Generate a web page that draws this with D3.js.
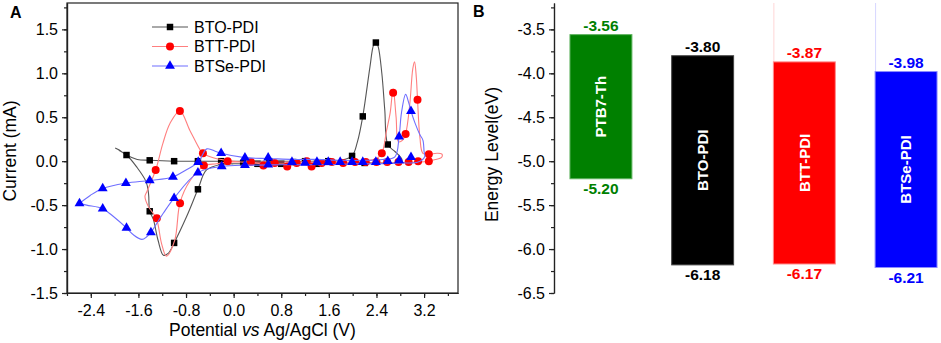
<!DOCTYPE html>
<head>
	<meta charset="utf-8" />
	<style>
		body {
			margin: 0;
			background-color: #fff;
			font-family: 'Liberation Sans', Arial, sans-serif;
		}
		svg text {
			font-family: 'Liberation Sans', Arial, sans-serif;
		}
		.axis path,
		.axis line {
			stroke: #222;
			stroke-width: 1.2px;
		}
		.axis text {
			font-size: 16px;
			fill: #000;
		}
	</style>
</head>

<body>
	<div id="chart-area"></div>

	<script src="https://cdnjs.cloudflare.com/ajax/libs/d3/7.8.5/d3.min.js"></script>

	<script>
		// ---- panel A : cyclic voltammetry (potential V, current mA) ----
		let seriesNames = ['BTO-PDI', 'BTT-PDI', 'BTSe-PDI'];

		let btoLine = [
			[-1.99, 0.15], [-1.93, 0.13], [-1.8, 0.07], [-1.62, 0.02], [-1.41, 0.01],
			[-1.0, 0.0], [-0.6, 0.0], [-0.21, 0.0], [0.2, 0.0], [0.6, 0.0], [1.0, 0.0],
			[1.4, 0.0], [1.8, 0.01], [1.99, 0.06], [2.08, 0.22], [2.17, 0.51],
			[2.29, 1.07], [2.35, 1.32], [2.39, 1.36], [2.43, 1.3], [2.49, 1.0],
			[2.54, 0.58], [2.59, 0.19], [2.71, 0.11], [2.8, 0.05], [2.83, 0.01],
			[2.7, -0.02], [2.4, -0.02], [2.0, -0.02], [1.6, -0.03], [1.2, -0.03],
			[0.8, -0.03], [0.4, -0.03], [0.0, -0.03], [-0.2, -0.035], [-0.455, -0.1],
			[-0.6, -0.32], [-0.79, -0.63], [-1.0, -0.93], [-1.1, -1.05], [-1.18, -1.07],
			[-1.27, -0.9], [-1.35, -0.66], [-1.41, -0.57], [-1.43, -0.37], [-1.47, -0.235],
			[-1.63, -0.065], [-1.8, 0.07], [-1.93, 0.125]
		];
		let btoMarks = [
			[-1.8, 0.07], [-1.41, 0.01], [-1.0, 0.0], [-0.6, 0.0], [-0.21, 0.0],
			[0.16, -0.02], [0.6, 0.0], [1.0, -0.01], [1.2, 0.0], [1.59, 0.0],
			[1.99, 0.06], [2.17, 0.51], [2.39, 1.35], [2.59, 0.19],
			[-0.6, -0.32], [-1.0, -0.93], [-1.41, -0.57], [0.4, -0.03], [0.8, -0.03],
			[1.4, -0.03], [2.2, -0.02]
		];

		let bttLine = [
			[-0.1, -0.01], [0.3, -0.01], [0.7, -0.01], [1.1, -0.01], [1.5, -0.01],
			[1.9, -0.01], [2.2, 0.0], [2.4, 0.03], [2.49, 0.09], [2.57, 0.35],
			[2.63, 0.55], [2.68, 0.82], [2.73, 0.5], [2.77, 0.22], [2.84, 0.24],
			[2.89, 0.31], [2.96, 0.65], [3.01, 1.05], [3.04, 1.13], [3.07, 0.95],
			[3.09, 0.7], [3.13, 0.27], [3.18, 0.09], [3.28, 0.08], [3.42, 0.09],
			[3.5, 0.08], [3.49, 0.04], [3.4, 0.02], [3.28, 0.0], [3.1, -0.01],
			[2.7, -0.02], [2.3, -0.02], [1.9, -0.02], [1.5, -0.03], [1.1, -0.03],
			[0.7, -0.03], [0.3, -0.02], [0.0, 0.0], [-0.3, 0.03], [-0.516, 0.09],
			[-0.56, 0.125], [-0.735, 0.35], [-0.903, 0.57], [-1.07, 0.43], [-1.19, 0.2],
			[-1.31, -0.1], [-1.46, -0.35], [-1.49, -0.4], [-1.43, -0.52], [-1.3, -0.65],
			[-1.21, -0.94], [-1.13, -1.08], [-0.99, -0.9], [-0.9, -0.47], [-0.73, -0.22],
			[-0.49, -0.05], [-0.29, -0.03], [-0.1, -0.01]
		];
		let bttMarks = [
			[-1.31, -0.1], [-0.903, 0.57], [-0.516, 0.09], [-0.5, -0.05], [-0.1, 0.0],
			[-1.29, -0.65], [-0.9, -0.48], [0.29, -0.01], [0.69, -0.02], [1.06, -0.02],
			[1.23, 0.0], [1.31, -0.06], [1.48, -0.02], [1.65, -0.01], [1.84, -0.02],
			[2.04, -0.01], [2.22, -0.01], [2.4, -0.01], [2.58, -0.01], [2.77, -0.01],
			[2.94, -0.01], [3.1, 0.0], [3.28, 0.0], [3.28, 0.08], [3.09, 0.7],
			[2.89, 0.31], [2.68, 0.78], [2.49, 0.09], [0.5, -0.05], [0.9, -0.06]
		];

		let btseLine = [
			[-2.59, -0.48], [-2.41, -0.39], [-2.2, -0.31], [-1.81, -0.25], [-1.41, -0.22],
			[-1.02, -0.18], [-0.8, -0.1], [-0.595, -0.01], [-0.45, 0.14], [-0.3, 0.11],
			[-0.21, 0.09], [0.19, 0.04], [0.6, 0.03], [1.0, 0.02], [1.4, 0.02],
			[1.8, 0.01], [2.2, 0.01], [2.5, 0.02], [2.71, 0.05], [2.78, 0.28],
			[2.82, 0.55], [2.89, 0.76], [2.94, 0.67], [2.98, 0.57], [3.05, 0.43],
			[3.13, 0.3], [3.18, 0.24], [3.2, 0.11], [3.21, 0.05], [3.1, -0.01],
			[2.8, -0.02], [2.4, -0.03], [2.0, -0.03], [1.6, -0.04], [1.2, -0.04],
			[0.8, -0.04], [0.4, -0.045], [0.19, -0.045], [-0.2, -0.06], [-0.6, -0.13],
			[-1.0, -0.42], [-1.18, -0.59], [-1.39, -0.81], [-1.46, -0.86], [-1.54, -0.89],
			[-1.68, -0.84], [-1.8, -0.76], [-2.02, -0.63], [-2.2, -0.54], [-2.47, -0.5],
			[-2.59, -0.48]
		];
		let btseMarks = [
			[-2.59, -0.48], [-2.2, -0.31], [-1.81, -0.25], [-1.41, -0.22], [-1.02, -0.18],
			[-0.595, -0.01], [-0.21, 0.09], [0.19, 0.04], [0.58, 0.04], [-2.2, -0.54],
			[-1.8, -0.76], [-1.39, -0.81], [-1.0, -0.42], [-0.6, -0.13], [-0.2, -0.06],
			[0.19, -0.045], [0.58, -0.04], [0.98, -0.01], [1.2, -0.02], [1.4, -0.01],
			[1.59, -0.01], [1.79, -0.01], [1.99, -0.01], [2.17, -0.01], [2.39, -0.01],
			[2.59, 0.0], [2.78, 0.01], [2.98, 0.045], [2.78, 0.28], [2.98, 0.57]
		];

		let cvXTicks = [-2.4, -1.6, -0.8, 0.0, 0.8, 1.6, 2.4, 3.2];
		let cvYTicks = [-1.5, -1.0, -0.5, 0.0, 0.5, 1.0, 1.5];

		// ---- panel B : energy levels ----
		let materials = ['PTB7-Th', 'BTO-PDI', 'BTT-PDI', 'BTSe-PDI'];
		let lumo = [-3.56, -3.8, -3.87, -3.98];
		let homo = [-5.2, -6.18, -6.17, -6.21];
		let energyTicks = [-6.5, -6.0, -5.5, -5.0, -4.5, -4.0, -3.5];

		let svg = d3
			.select('#chart-area')
			.append('svg')
			.attr('width', 941)
			.attr('height', 343);

		let fmt = d => d.toFixed(1);

		// ================= panel A =================
		let x = d3.scaleLinear().domain([-2.8, 3.77]).range([67, 458]);
		let y = d3.scaleLinear().domain([-1.5, 1.8]).range([293, 3]);

		let gA = svg.append('g');

		gA.append('g')
			.attr('class', 'axis')
			.attr('transform', 'translate(0,293)')
			.call(
				d3.axisBottom(x)
					.tickValues(d3.range(-2.8, 3.7, 0.4))
					.tickSize(3)
					.tickSizeOuter(0)
					.tickFormat('')
			);
		gA.append('g')
			.attr('class', 'axis')
			.attr('transform', 'translate(0,293)')
			.call(
				d3.axisBottom(x)
					.tickValues(cvXTicks)
					.tickSize(5)
					.tickSizeOuter(0)
					.tickPadding(7)
					.tickFormat(fmt)
			);
		gA.append('g')
			.attr('class', 'axis')
			.attr('transform', 'translate(67,0)')
			.call(
				d3.axisLeft(y)
					.tickValues(d3.range(-1.5, 1.8, 0.25))
					.tickSize(3)
					.tickSizeOuter(0)
					.tickFormat('')
			);
		gA.append('g')
			.attr('class', 'axis')
			.attr('transform', 'translate(67,0)')
			.call(
				d3.axisLeft(y)
					.tickValues(cvYTicks)
					.tickSize(5)
					.tickSizeOuter(0)
					.tickPadding(4)
					.tickFormat(fmt)
			);

		// frame
		gA.append('rect')
			.attr('x', x.range()[0])
			.attr('y', y.range()[1])
			.attr('width', x.range()[1] - x.range()[0])
			.attr('height', y.range()[0] - y.range()[1])
			.attr('fill', 'none')
			.attr('stroke', '#222')
			.attr('stroke-width', 1.2);

		let line = d3
			.line()
			.x(d => x(d[0]))
			.y(d => y(d[1]))
			.curve(d3.curveCatmullRom.alpha(0.5));

		let series = [
			{ name: seriesNames[0], line: btoLine, marks: btoMarks, stroke: '#555', fill: '#000', shape: d3.symbolSquare, size: 42 },
			{ name: seriesNames[1], line: bttLine, marks: bttMarks, stroke: '#ff7f7f', fill: '#ff0000', shape: d3.symbolCircle, size: 50 },
			{ name: seriesNames[2], line: btseLine, marks: btseMarks, stroke: '#6f6fff', fill: '#0000ff', shape: d3.symbolTriangle, size: 42 },
		];

		let plotA = gA.append('g');

		series.forEach(s => {
			plotA.append('path')
				.datum(s.line)
				.attr('d', line)
				.attr('fill', 'none')
				.attr('stroke', s.stroke)
				.attr('stroke-width', 1.1);

			plotA.selectAll(null)
				.data(s.marks)
				.join('path')
				.attr('transform', d => `translate(${x(d[0])},${y(d[1])})`)
				.attr('d', d3.symbol().type(s.shape).size(s.size))
				.attr('fill', s.fill);
		});

		// legend
		let legend = gA
			.selectAll('.legend')
			.data(series)
			.join('g')
			.attr('class', 'legend')
			.attr('transform', (d, i) => `translate(152,${27 + i * 19.5})`);
		legend.append('line')
			.attr('x1', 0)
			.attr('x2', 36)
			.attr('stroke', d => d.stroke)
			.attr('stroke-width', 1.2);
		legend.append('path')
			.attr('transform', 'translate(18,0)')
			.attr('d', d => d3.symbol().type(d.shape).size(d.size)())
			.attr('fill', d => d.fill);
		legend.append('text')
			.attr('x', 42)
			.attr('dy', '0.36em')
			.style('font-size', '16px')
			.text(d => d.name);

		// titles
		svg.append('text')
			.attr('x', 10)
			.attr('y', 18)
			.style('font-size', '16px')
			.style('font-weight', 'bold')
			.text('A');

		svg.append('text')
			.attr('transform', 'translate(16,151) rotate(-90)')
			.attr('text-anchor', 'middle')
			.style('font-size', '17.5px')
			.text('Current (mA)');

		let xt = svg.append('text')
			.attr('x', 262.5)
			.attr('y', 336)
			.attr('text-anchor', 'middle')
			.style('font-size', '17.5px');
		xt.append('tspan').text('Potential ');
		xt.append('tspan').style('font-style', 'italic').text('vs');
		xt.append('tspan').text(' Ag/AgCl (V)');

		// ================= panel B =================
		let yE = d3.scaleLinear().domain([-6.5, -3.2]).range([293, 3]);
		let xB = d3.scaleBand().domain(materials).range([554, 953]).paddingInner(0.391).paddingOuter(0.157);

		let gB = svg.append('g');

		gB.append('g')
			.attr('class', 'axis')
			.attr('transform', 'translate(554,0)')
			.call(
				d3.axisLeft(yE)
					.tickValues(d3.range(-6.5, -3.2, 0.25))
					.tickSize(3)
					.tickSizeOuter(0)
					.tickFormat('')
			);
		gB.append('g')
			.attr('class', 'axis')
			.attr('transform', 'translate(554,0)')
			.call(
				d3.axisLeft(yE)
					.tickValues(energyTicks)
					.tickSize(5)
					.tickSizeOuter(0)
					.tickPadding(4)
					.tickFormat(fmt)
			);

		let barFill = ['#008000', '#000000', '#ff0000', '#0000ff'];
		let barEdge = ['#5fb35f', '#444', '#ff8c8c', '#8c8cff'];
		let labelColor = ['#008000', '#000000', '#ff0000', '#0000ff'];
		let faint = [null, null, '#ffd6d6', '#d6d6ff'];

		let bars = materials.map((m, i) => ({ name: m, top: lumo[i], bottom: homo[i], i: i }));

		// faint guide lines above the acceptor bars
		gB.selectAll('.guide')
			.data(bars.filter(d => faint[d.i]))
			.join('line')
			.attr('class', 'guide')
			.attr('x1', d => xB(d.name) + 0.5)
			.attr('x2', d => xB(d.name) + 0.5)
			.attr('y1', yE(-3.2))
			.attr('y2', d => yE(d.top))
			.attr('stroke', d => faint[d.i])
			.attr('stroke-width', 1);

		gB.selectAll('.bar')
			.data(bars)
			.join('rect')
			.attr('class', 'bar')
			.attr('x', d => xB(d.name))
			.attr('width', xB.bandwidth())
			.attr('y', d => yE(d.top))
			.attr('height', d => yE(d.bottom) - yE(d.top))
			.attr('fill', d => barFill[d.i])
			.attr('stroke', d => barEdge[d.i])
			.attr('stroke-width', 1);

		gB.selectAll('.top-label')
			.data(bars)
			.join('text')
			.attr('class', 'top-label')
			.attr('x', d => xB(d.name) + xB.bandwidth() / 2)
			.attr('y', d => yE(d.top) - 4)
			.attr('text-anchor', 'middle')
			.style('font-size', '15.5px')
			.style('font-weight', 'bold')
			.attr('fill', d => labelColor[d.i])
			.text(d => d.top.toFixed(2));

		gB.selectAll('.bottom-label')
			.data(bars)
			.join('text')
			.attr('class', 'bottom-label')
			.attr('x', d => xB(d.name) + xB.bandwidth() / 2)
			.attr('y', d => yE(d.bottom) + 15)
			.attr('text-anchor', 'middle')
			.style('font-size', '15.5px')
			.style('font-weight', 'bold')
			.attr('fill', d => labelColor[d.i])
			.text(d => d.bottom.toFixed(2));

		gB.selectAll('.bar-name')
			.data(bars)
			.join('text')
			.attr('class', 'bar-name')
			.attr('transform', d => {
				let cx = xB(d.name) + xB.bandwidth() / 2;
				let cy = (yE(d.top) + yE(d.bottom)) / 2;
				return `translate(${cx},${cy}) rotate(-90)`;
			})
			.attr('text-anchor', 'middle')
			.attr('dy', '0.36em')
			.style('font-size', '15px')
			.style('font-weight', 'bold')
			.attr('fill', '#fff')
			.text(d => d.name);

		svg.append('text')
			.attr('x', 473)
			.attr('y', 17)
			.style('font-size', '16px')
			.style('font-weight', 'bold')
			.text('B');

		svg.append('text')
			.attr('transform', 'translate(498,154.5) rotate(-90)')
			.attr('text-anchor', 'middle')
			.style('font-size', '17.5px')
			.text('Energy Level(eV)');
	</script>
</body>
